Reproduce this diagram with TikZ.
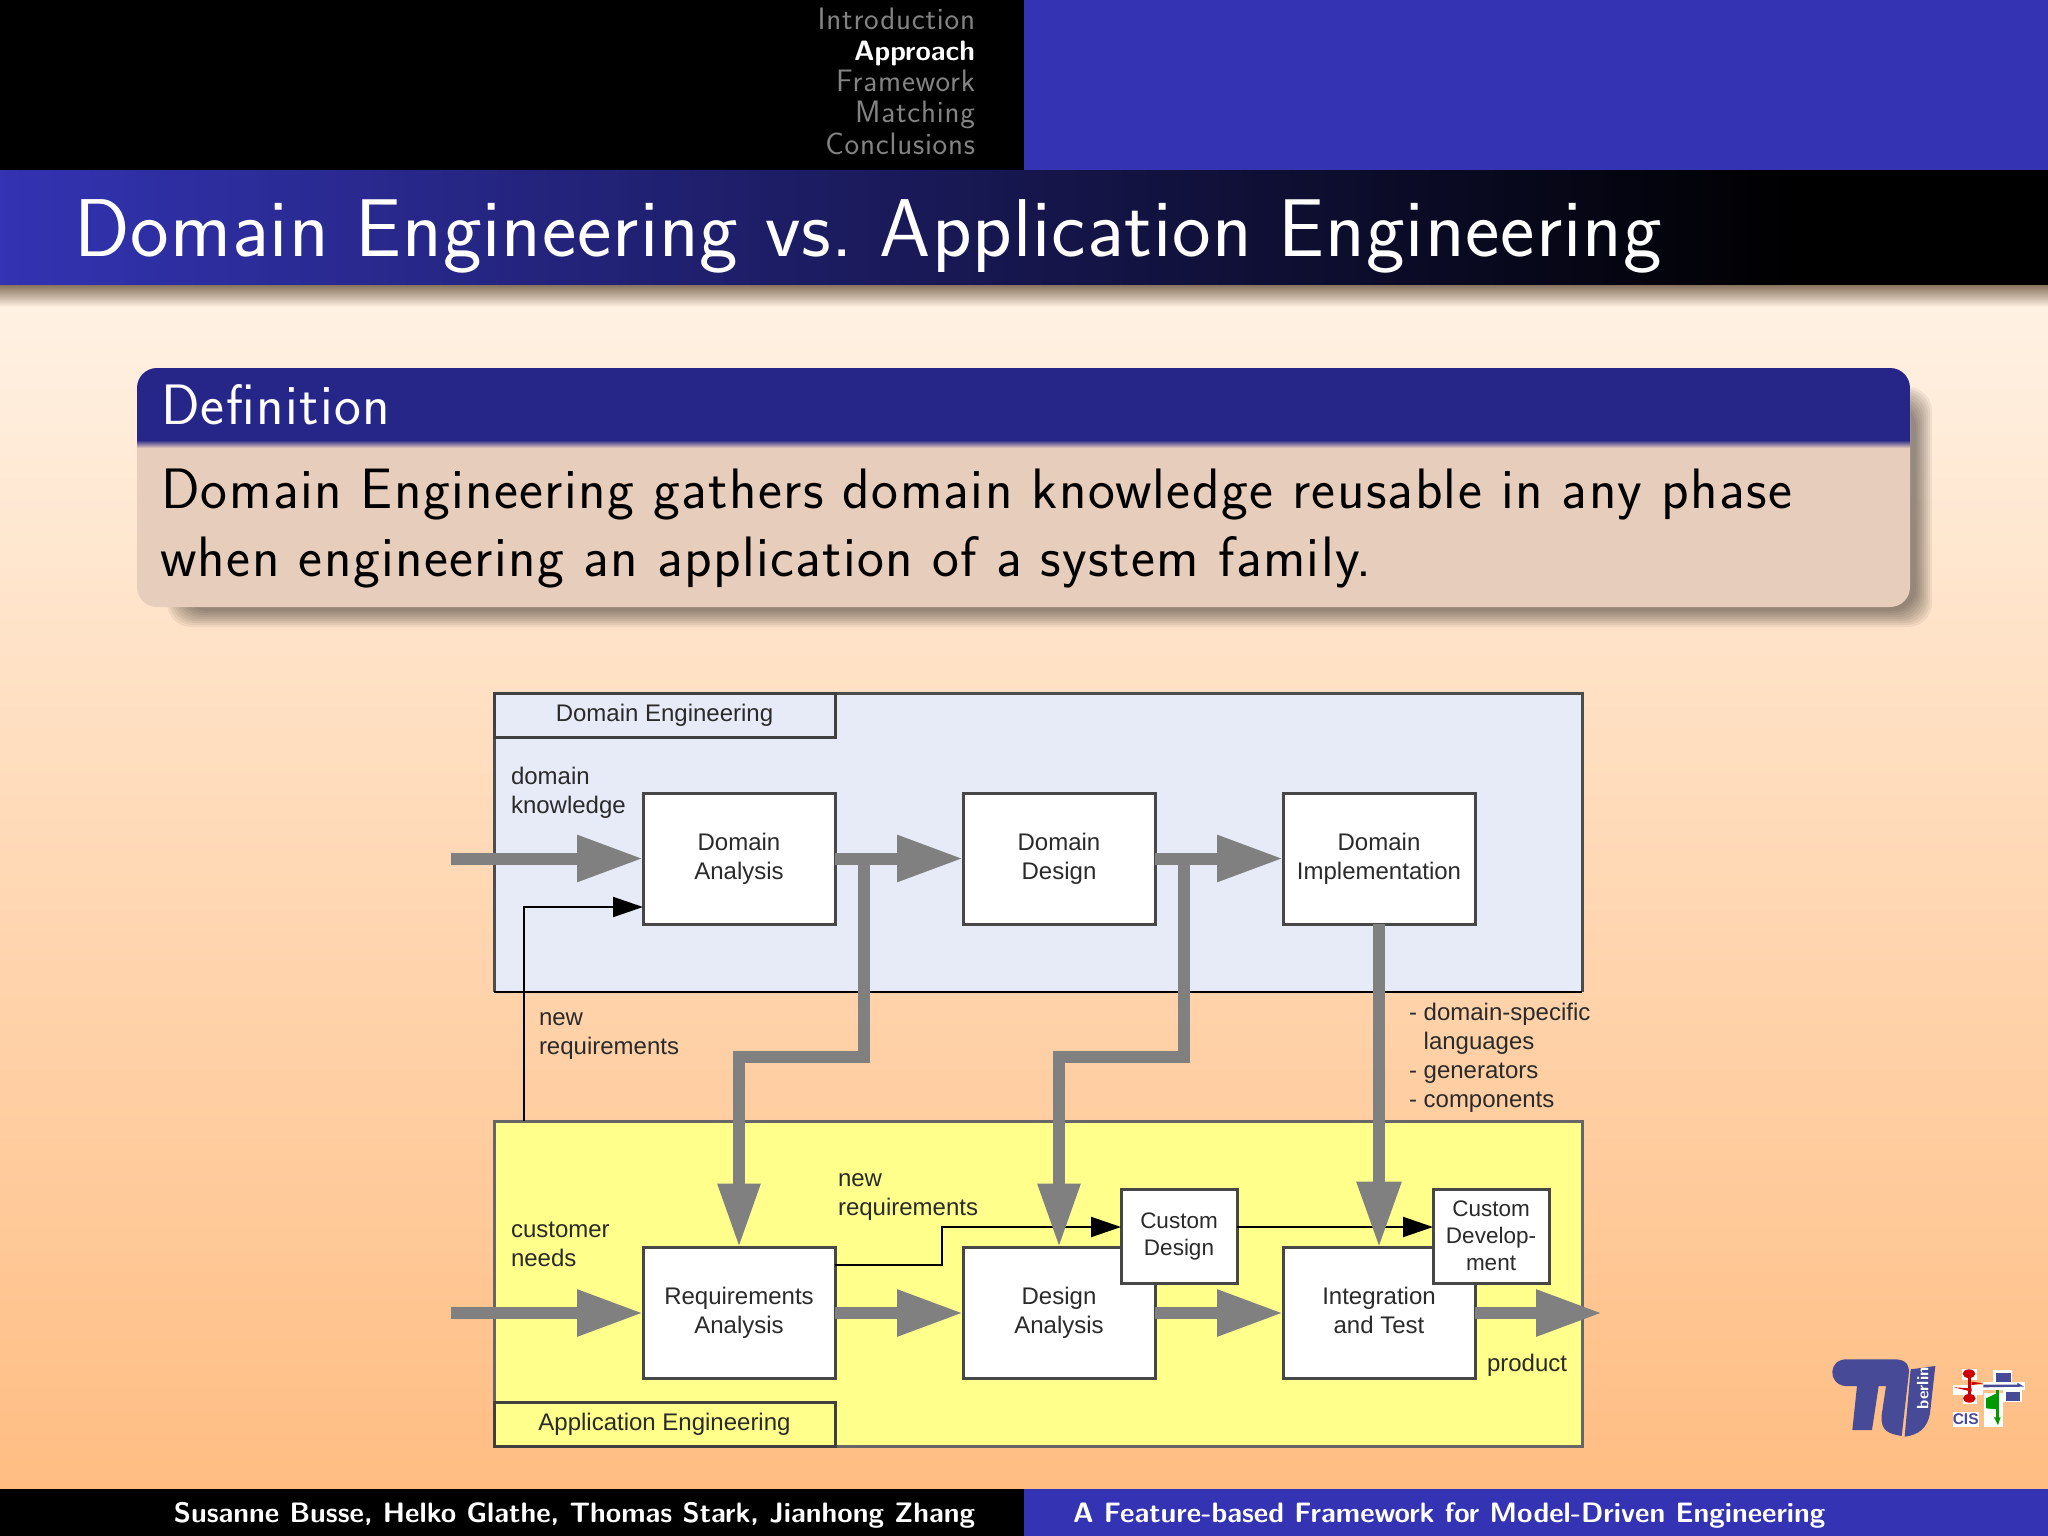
\documentclass[tikz,border=0pt]{standalone}
\usepackage{fontspec}
\setsansfont{Latin Modern Sans}
\newfontfamily\arfont{Liberation Sans}
\usetikzlibrary{arrows.meta,calc}
\definecolor{navbg}{HTML}{3333B3}
\definecolor{headnavy}{HTML}{262689}
\definecolor{blockbody}{HTML}{E7CDBB}
\definecolor{domfill}{HTML}{E7EBF8}
\definecolor{appfill}{HTML}{FFFF8C}
\definecolor{fatgray}{HTML}{808080}
\definecolor{inktext}{HTML}{2A2A2A}
\definecolor{navgray}{HTML}{838383}
\definecolor{logoblue}{HTML}{474A96}
\tikzset{
  x=1pt,y=-1pt,
  every node/.style={inner sep=0pt,outer sep=0pt},
  beamtext/.style 2 args={font=\sffamily\fontsize{#1}{#1}\selectfont\addfontfeature{LetterSpace=#2},anchor=base west},
  navtext/.style={font=\sffamily\fontsize{31}{31}\selectfont\addfontfeature{LetterSpace=2.5},anchor=base east,text=navgray},
  foottext/.style={font=\sffamily\bfseries\fontsize{28.1}{28.1}\selectfont,text=white},
  dia/.style={font=\arfont\fontsize{24}{29}\selectfont,text=inktext,align=center},
  dialeft/.style={font=\arfont\fontsize{24}{29}\selectfont,text=inktext,align=left,anchor=west},
  bigbox/.style={draw=black!72,line width=3pt,fill=white,minimum width=192pt,minimum height=131pt,dia},
  smallbox/.style={draw=black!72,line width=3pt,fill=white,minimum width=116pt,minimum height=94pt,dia,font=\arfont\fontsize{22.5}{27}\selectfont},
  labelbox/.style={draw=black!75,line width=3pt,minimum width=341pt,minimum height=44pt,dia},
  fat/.style={draw=fatgray,line width=12pt},
  fatarrow/.style={fat,-{Triangle[length=66pt,width=44pt]}},
  fatdown/.style={fat,-{Triangle[length=64pt,width=40pt]}},
  thinarrow/.style={draw=black,line width=2pt,-{Triangle[length=30pt,width=20pt]}},
}
\begin{document}
\frenchspacing
\begin{tikzpicture}
\useasboundingbox (0,0) rectangle (2048,1536);
% slide background
\fill[color={rgb,255:red,255;green,241;blue,227}] (0,0) rectangle (2048,307);
\shade[top color={rgb,255:red,255;green,241;blue,227},bottom color={rgb,255:red,255;green,189;blue,130}] (0,307) rectangle (2048,1490);
% header
\fill[black] (0,0) rectangle (1024,170);
\fill[navbg] (1024,0) rectangle (2048,170);
\shade[left color=navbg,right color=black] (0,170) rectangle (1800,285);
\fill[black] (1800,170) rectangle (2048,285);
\shade[top color={rgb,255:red,135;green,115;blue,95},bottom color={rgb,255:red,255;green,241;blue,227}] (0,285) rectangle (2048,307);
% footer
\fill[black] (0,1489) rectangle (1024,1536);
\fill[navbg] (1024,1489) rectangle (2048,1536);
% nav
\node[navtext] (n1) at (975,30) {Introduction};
\node[navtext,text=white,font=\sffamily\bfseries\fontsize{28}{28}\selectfont] (n2) at (975,61) {Approach};
\node[navtext] (n3) at (975,92) {Framework};
\node[navtext] (n4) at (975,123) {Matching};
\node[navtext] (n5) at (975,155) {Conclusions};
% title
\node[beamtext={82}{1.15},text=white] (title) at (74,256) {Domain Engineering vs. Application Engineering};
% block shadow
\foreach \i in {0,2,...,16}{
  \fill[black,opacity=0.055,rounded corners=24pt] (167+\i,387+\i) rectangle (1932-\i,627-\i);
}
% block
\fill[blockbody,rounded corners=20pt] (137,368) rectangle (1910,607);
\begin{scope}
  \clip[rounded corners=20pt] (137,368) rectangle (1910,607);
  \fill[headnavy] (137,368) rectangle (1910,440);
  \shade[top color=headnavy,bottom color=blockbody] (137,440) rectangle (1910,448);
\end{scope}
\node[beamtext={57}{2.4},text=white] (blockhead) at (161,424) {Definition};
\node[beamtext={57}{2.4},text=black] (body1) at (161,508) {Domain Engineering gathers domain knowledge reusable in any phase};
\node[beamtext={57}{2.4},text=black] (body2) at (160,576) {when engineering an application of a system family.};
% diagram panels
\fill[domfill] (494,693) rectangle (1582,992);
\fill[appfill] (494,1121) rectangle (1582,1446);
\draw[black!70,line width=3pt] (494,992) -- (494,693) -- (1582,693) -- (1582,992);
\draw[black,line width=2.5pt] (494,992) -- (1582,992);
\draw[black!60,line width=3pt] (494,1121) rectangle (1582,1446);
\node[labelbox,anchor=north west] (lbD) at (494,693) {Domain Engineering};
\node[labelbox,anchor=south west] (lbA) at (494,1446) {Application Engineering};
% nodes
\node[bigbox] (DA) at (739,858.5) {Domain\\Analysis};
\node[bigbox] (DD) at (1059,858.5) {Domain\\Design};
\node[bigbox] (DI) at (1379,858.5) {Domain\\Implementation};
\node[bigbox] (RA) at (739,1313) {Requirements\\Analysis};
\node[bigbox] (DsA) at (1059,1313) {Design\\Analysis};
\node[bigbox] (IT) at (1379,1313) {Integration\\and Test\vphantom{g}};
\node[smallbox] (CD) at (1179,1236) {Custom\\Design};
\node[smallbox] (CDev) at (1491,1236) {Custom\\Develop-\\ment};
% free ends
\coordinate (inD) at (451,858.5);
\coordinate (inA) at (451,1313);
\coordinate (out) at (1602,1313);
\coordinate (b1) at (864,858.5);
\coordinate (k1) at (739,1057);
\coordinate (b2) at (1184,858.5);
\coordinate (k2) at (1059,1057);
\coordinate (upstart) at (523.5,1121);
\coordinate (k3) at (942,1227);
% thin connectors
\draw[thinarrow] (upstart) |- ($(DA.west)+(0,48.5)$);
\draw[thinarrow] ($(RA.east)+(0,-48)$) -| (k3) -- ($(CD.west)+(0,-9)$);
\draw[thinarrow] ($(CD.east)+(0,-9)$) -- ($(CDev.west)+(0,-9)$);
% fat connectors
\draw[fatarrow] (inD) -- (DA.west);
\draw[fatarrow] (DA.east) -- (DD.west);
\draw[fatarrow] (DD.east) -- (DI.west);
\draw[fatarrow] (inA) -- (RA.west);
\draw[fatarrow] (RA.east) -- (DsA.west);
\draw[fatarrow] (DsA.east) -- (IT.west);
\draw[fatarrow] (IT.east) -- (out);
\draw[fatdown] (b1) |- (k1) -- (RA.north);
\draw[fatdown] (b2) |- (k2) -- (DsA.north);
\draw[fat,-{Triangle[length=66pt,width=42pt]}] (DI.south) -- (IT.north);
% labels
\node[dialeft] (t1) at (511,792.5) {domain\\knowledge};
\node[dialeft] (t2) at (539,1036) {new\\requirements};
\node[dialeft] (t3) at (511,1244) {customer\\needs};
\node[dialeft] (t4) at (838,1197) {new\\requirements};
\node[dialeft] (t5) at (1409,1057.5) {- domain-specific\\\phantom{- }languages\\- generators\\- components};
\node[dialeft] (t6) at (1487,1365.5) {product};
% footer text
\node[foottext,anchor=base east] (f1) at (975,1522) {Susanne Busse, Helko Glathe, Thomas Stark, Jianhong Zhang};
\node[foottext,anchor=base west] (f2) at (1073,1522) {A Feature-based Framework for Model-Driven Engineering};
% logo
\begin{scope}[shift={(1780,1330)},x=0.3333pt,y=-0.3333pt]
  \fill[logoblue] (200,88) -- (345,88) .. controls (378,88) and (390,105) .. (386,135)
     -- (365,318) .. controls (330,312) and (300,305) .. (305,255)
     -- (318,168) -- (296,168) -- (276,300) -- (217,300) -- (231,168) -- (195,168)
     .. controls (170,165) and (155,145) .. (157,125) .. controls (160,100) and (175,88) .. (200,88) -- cycle;
  \fill[logoblue] (392,118) -- (466,108) -- (450,250) .. controls (442,295) and (415,315) .. (374,320) -- cycle;
  \node[font=\sffamily\bfseries\fontsize{16.5}{16.5}\selectfont,text=white,rotate=90] (berlin) at (428,175) {berlin};
  % CIS icon
  \fill[white] (545,118) rectangle (590,150);
  \fill[white] (520,165) rectangle (610,195);
  \fill[white] (548,195) rectangle (590,222);
  \fill[white] (640,120) rectangle (695,160);
  \fill[white] (610,155) rectangle (735,180);
  \fill[white] (670,175) rectangle (725,215);
  \fill[white] (612,190) rectangle (670,290);
  \fill[white] (518,245) rectangle (597,290);
  \fill[red!80!black] (567,131) ellipse (19 and 13);
  \fill[red!80!black] (568,205) ellipse (19 and 13);
  \draw[red!80!black,line width=3pt] (567,140) -- (567,200);
  \fill[red!80!black] (522,172) -- (575,185) -- (575,165) -- (610,160) -- (575,155) -- (575,175) -- cycle;
  \fill[logoblue] (648,128) rectangle (692,156);
  \fill[logoblue] (678,185) rectangle (720,212);
  \fill[logoblue] (610,164) -- (712,164) -- (712,158) -- (732,170) -- (610,172) -- cycle;
  \draw[green!60!black,line width=3pt] (652,180) -- (652,270);
  \fill[green!60!black] (618,205) -- (650,190) -- (650,238) -- (618,235) -- cycle;
  \fill[green!60!black] (642,262) -- (662,262) -- (654,285) -- cycle;
  \node[font=\arfont\bfseries\fontsize{15.5}{15.5}\selectfont,text=logoblue] (cis) at (557,267) {CIS};
\end{scope}
\end{tikzpicture}
\end{document}
